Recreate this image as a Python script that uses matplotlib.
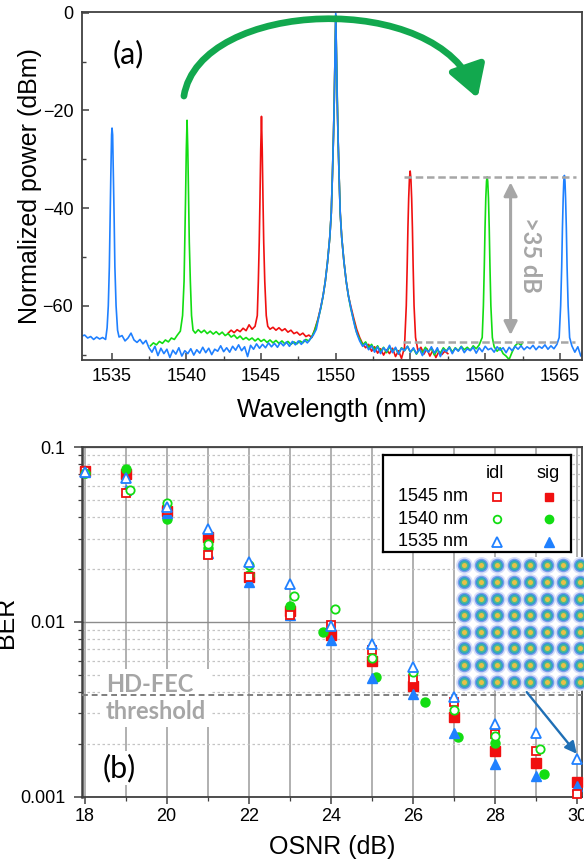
"""Four-wave-mixing spectra (a) and BER vs OSNR (b)"""

import matplotlib
matplotlib.use("Agg")
import matplotlib.pyplot as plt
from matplotlib.patches import FancyArrowPatch, Rectangle
from matplotlib.path import Path
from matplotlib.ticker import MultipleLocator, LogLocator, NullFormatter, FuncFormatter

plt.rcParams["font.family"] = ["Liberation Sans", "DejaVu Sans"]

# ---------------- (a) optical spectra, (wavelength nm, power dBm) ----------------
spec_blue = [
    (1533.0, -66.2), (1533.2, -66.0), (1533.4, -66.6), (1533.6, -66.3), (1533.8, -66.9),
    (1534.0, -66.4), (1534.2, -66.8), (1534.4, -66.5), (1534.6, -66.9),
    (1534.7, -64.5), (1534.78, -60), (1534.85, -52), (1534.9, -42), (1534.95, -33),
    (1535.0, -25), (1535.03, -23.6), (1535.07, -25), (1535.12, -33), (1535.17, -42),
    (1535.22, -52), (1535.3, -60), (1535.4, -65), (1535.5, -66.4),
    (1535.7, -66.1), (1535.9, -67.2), (1536.1, -66.6), (1536.3, -65.6), (1536.5, -67.0),
    (1536.7, -67.5), (1536.9, -66.9), (1537.1, -67.8), (1537.3, -67.1), (1537.5, -68.6),
    (1537.7, -69.5), (1537.9, -68.3), (1538.1, -70.2), (1538.3, -68.7), (1538.5, -69.8),
    (1538.7, -68.9), (1538.9, -70.6), (1539.1, -69.1), (1539.3, -69.9), (1539.5, -68.6),
    (1539.7, -70.3), (1539.9, -69.2), (1540.1, -69.8), (1540.3, -68.8), (1540.5, -70.1),
    (1540.7, -69.0), (1540.9, -69.7), (1541.1, -68.5), (1541.3, -69.6), (1541.5, -68.7),
    (1541.7, -70.0), (1541.9, -68.9), (1542.1, -69.3), (1542.3, -68.2), (1542.5, -69.4),
    (1542.7, -68.6), (1542.9, -69.5), (1543.1, -68.3), (1543.3, -69.1), (1543.5, -68.0),
    (1543.7, -69.2), (1543.9, -68.4), (1544.1, -70.4), (1544.3, -68.1), (1544.5, -68.9),
    (1544.7, -67.8), (1544.9, -68.7), (1545.1, -67.9), (1545.3, -68.6), (1545.5, -67.6),
    (1545.7, -68.4), (1545.9, -67.7), (1546.1, -68.5), (1546.3, -67.5), (1546.5, -68.2),
    (1546.7, -67.4), (1546.9, -68.3), (1547.1, -67.3), (1547.3, -68.0), (1547.5, -67.2),
    (1547.7, -67.9), (1547.9, -67.0), (1548.1, -67.6), (1548.3, -66.8),
    (1548.5, -66.0), (1548.7, -64.8), (1548.85, -62.5), (1549.0, -60.3), (1549.15, -58),
    (1549.3, -55), (1549.45, -51), (1549.6, -46), (1549.7, -41), (1549.78, -33),
    (1549.85, -25), (1549.9, -18), (1549.95, -9), (1550.0, 0), (1550.05, -9),
    (1550.1, -18), (1550.15, -25), (1550.22, -33), (1550.3, -41), (1550.4, -46),
    (1550.55, -51), (1550.7, -55), (1550.85, -58), (1551.0, -60.3), (1551.15, -62.5),
    (1551.3, -64.5), (1551.45, -66), (1551.6, -67.2),
    (1551.8, -68.3), (1552.0, -67.7), (1552.2, -69.0), (1552.4, -68.2), (1552.6, -69.5),
    (1552.8, -68.4), (1553.0, -69.8), (1553.2, -68.6), (1553.4, -69.3), (1553.6, -68.1),
    (1553.8, -69.6), (1554.0, -68.5), (1554.2, -69.9), (1554.4, -68.7), (1554.6, -69.2),
    (1554.8, -68.3), (1555.0, -69.5), (1555.2, -68.6), (1555.4, -69.8), (1555.6, -68.8),
    (1555.8, -70.2), (1556.0, -68.9), (1556.2, -69.5), (1556.4, -68.4), (1556.6, -69.7),
    (1556.8, -68.6), (1557.0, -70.4), (1557.2, -68.9), (1557.4, -69.4), (1557.6, -68.5),
    (1557.8, -69.8), (1558.0, -68.7), (1558.2, -69.3), (1558.4, -68.4), (1558.6, -69.6),
    (1558.8, -68.8), (1559.0, -69.2), (1559.2, -68.5), (1559.4, -69.7), (1559.6, -68.6),
    (1559.8, -69.4), (1560.0, -68.3), (1560.2, -69.0), (1560.4, -68.7), (1560.6, -69.5),
    (1560.8, -68.4), (1561.0, -69.1), (1561.2, -68.6), (1561.4, -69.6), (1561.6, -68.5),
    (1561.8, -69.2), (1562.0, -68.3), (1562.2, -68.9), (1562.4, -68.2), (1562.6, -69.0),
    (1562.8, -68.4), (1563.0, -68.8), (1563.2, -68.1), (1563.4, -69.0), (1563.6, -68.3),
    (1563.8, -68.7), (1564.0, -68.0), (1564.2, -68.9), (1564.4, -68.2), (1564.6, -68.8),
    (1564.8, -67.9), (1564.95, -66.5),
    (1565.05, -60), (1565.12, -52), (1565.17, -44), (1565.22, -38), (1565.26, -34.5),
    (1565.3, -33.3), (1565.34, -34.5), (1565.38, -38), (1565.43, -44), (1565.48, -52),
    (1565.55, -60), (1565.65, -66.5),
    (1565.8, -68.2), (1566.0, -69.5), (1566.2, -68.4), (1566.4, -70.3), (1566.6, -68.8),
    (1566.8, -70.6), (1567.0, -69.2),
]

spec_green = [
    (1537.6, -68.2), (1537.8, -67.6), (1538.0, -68.0), (1538.2, -67.3), (1538.4, -67.7),
    (1538.6, -67.0), (1538.8, -67.4), (1539.0, -66.6), (1539.2, -66.9), (1539.4, -66.0),
    (1539.6, -65.2), (1539.75, -62),
    (1539.85, -55), (1539.9, -47), (1539.95, -38), (1540.0, -28), (1540.05, -22),
    (1540.1, -28), (1540.15, -38), (1540.2, -47), (1540.27, -55), (1540.35, -62),
    (1540.45, -65.0),
    (1540.6, -65.6), (1540.8, -64.9), (1541.0, -65.5), (1541.2, -65.0), (1541.4, -65.7),
    (1541.6, -65.2), (1541.8, -65.8), (1542.0, -65.3), (1542.2, -65.9), (1542.4, -65.4),
    (1542.6, -66.1), (1542.8, -65.7), (1543.0, -66.4), (1543.2, -66.0), (1543.4, -66.7),
    (1543.6, -66.2), (1543.8, -66.9), (1544.0, -66.5), (1544.2, -67.0), (1544.4, -66.6),
    (1544.6, -67.2), (1544.8, -66.7), (1545.0, -67.3), (1545.2, -66.9), (1545.4, -67.5),
    (1545.6, -67.0), (1545.8, -67.6), (1546.0, -67.1), (1546.2, -67.7), (1546.4, -67.2),
    (1546.6, -67.8), (1546.8, -67.3), (1547.0, -67.9), (1547.2, -67.4), (1547.4, -67.8),
    (1547.6, -67.2), (1547.8, -67.6), (1548.0, -66.9), (1548.2, -67.2), (1548.4, -66.3),
    (1548.6, -65.0), (1548.8, -63.0), (1549.0, -60.5), (1549.15, -58), (1549.3, -55),
    (1549.45, -51), (1549.6, -46), (1549.7, -41), (1549.78, -33), (1549.85, -25),
    (1549.9, -18), (1549.95, -9), (1550.0, -0.5), (1550.05, -9), (1550.1, -18),
    (1550.15, -25), (1550.22, -33), (1550.3, -41), (1550.4, -46), (1550.55, -51),
    (1550.7, -55), (1550.85, -58), (1551.0, -60.5), (1551.2, -63), (1551.4, -65.5),
    (1551.6, -66.8),
    (1551.8, -68.0), (1552.0, -67.4), (1552.2, -68.6), (1552.4, -67.9), (1552.6, -69.1),
    (1552.8, -68.2), (1553.0, -69.4), (1553.2, -68.5), (1553.4, -69.6), (1553.6, -68.4),
    (1553.8, -69.3), (1554.0, -68.7), (1554.2, -69.8), (1554.4, -68.6), (1554.6, -69.2),
    (1554.8, -68.3), (1555.0, -69.5), (1555.2, -68.8), (1555.4, -69.9), (1555.6, -68.9),
    (1555.8, -69.6), (1556.0, -68.5), (1556.2, -69.4), (1556.4, -68.7), (1556.6, -70.1),
    (1556.8, -69.0), (1557.0, -69.7), (1557.2, -68.6), (1557.4, -69.3), (1557.6, -68.4),
    (1557.8, -69.5), (1558.0, -68.6), (1558.2, -69.2), (1558.4, -68.3), (1558.6, -69.0),
    (1558.8, -68.5), (1559.0, -69.1), (1559.2, -68.2), (1559.4, -68.8), (1559.6, -68.0),
    (1559.8, -66.5),
    (1559.88, -60), (1559.94, -52), (1559.99, -44), (1560.04, -38), (1560.09, -34.5),
    (1560.13, -33.6), (1560.17, -34.5), (1560.22, -38), (1560.27, -44), (1560.32, -52),
    (1560.38, -60), (1560.48, -66.5),
    (1560.6, -68.4), (1560.8, -69.3), (1561.0, -68.6), (1561.2, -69.8), (1561.4, -70.3),
    (1561.6, -71.0), (1561.8, -69.5), (1562.0, -68.2), (1562.2, -67.6), (1562.4, -68.1),
    (1562.5, -67.5),
]

spec_red = [
    (1542.8, -65.6), (1543.0, -65.0), (1543.2, -65.5), (1543.4, -64.9), (1543.6, -65.3),
    (1543.8, -64.6), (1544.0, -65.1), (1544.2, -63.9), (1544.4, -64.8), (1544.6, -64.2),
    (1544.75, -62),
    (1544.82, -55), (1544.88, -47), (1544.93, -38), (1544.98, -28), (1545.03, -21.2),
    (1545.08, -28), (1545.13, -38), (1545.18, -47), (1545.25, -55), (1545.35, -62),
    (1545.45, -64.2),
    (1545.6, -64.8), (1545.8, -64.4), (1546.0, -65.0), (1546.2, -64.5), (1546.4, -65.1),
    (1546.6, -64.7), (1546.8, -65.4), (1547.0, -65.0), (1547.2, -65.7), (1547.4, -65.4),
    (1547.6, -66.0), (1547.8, -65.6), (1548.0, -66.3), (1548.2, -66.0), (1548.4, -66.5),
    (1548.6, -64.8), (1548.8, -62.8), (1549.0, -60.3), (1549.15, -58), (1549.3, -55),
    (1549.45, -51), (1549.6, -46), (1549.7, -41), (1549.78, -33), (1549.85, -25),
    (1549.9, -18), (1549.95, -9), (1550.0, -0.5), (1550.05, -9), (1550.1, -18),
    (1550.15, -25), (1550.22, -33), (1550.3, -41), (1550.4, -46), (1550.55, -51),
    (1550.7, -55), (1550.85, -58), (1551.0, -60.0), (1551.2, -62.5), (1551.4, -64.8),
    (1551.6, -66.5),
    (1551.8, -67.8), (1552.0, -68.6), (1552.2, -67.9), (1552.4, -69.3), (1552.6, -68.4),
    (1552.8, -69.7), (1553.0, -68.8), (1553.2, -70.1), (1553.4, -69.0), (1553.6, -69.8),
    (1553.8, -68.7), (1554.0, -70.4), (1554.2, -69.2), (1554.4, -70.8), (1554.6, -68.5),
    (1554.72, -60), (1554.78, -52), (1554.83, -44), (1554.88, -38), (1554.93, -34),
    (1554.98, -32.4), (1555.03, -34), (1555.08, -38), (1555.13, -44), (1555.18, -52),
    (1555.24, -60), (1555.34, -66.5),
    (1555.5, -69.2), (1555.7, -68.5), (1555.9, -69.9), (1556.1, -68.8), (1556.3, -70.3),
    (1556.5, -69.1), (1556.7, -70.6), (1556.9, -69.4), (1557.1, -70.0), (1557.3, -69.3),
    (1557.5, -69.8),
]

wl_ticks = [1535, 1540, 1545, 1550, 1555, 1560, 1565]
level_hi = -33.7      # top of the idler peaks
level_lo = -67.5      # noise floor

# ---------------- (b) BER vs OSNR ----------------
osnr = [18, 19, 20, 21, 22, 23, 24, 25, 26, 27, 28, 29, 30]
ber_1545_idl = [0.0735, 0.055, 0.0437, 0.0241, 0.0182, 0.0109, 0.0096, 0.0069, 0.0047,
                0.0035, 0.00228, 0.00182, 0.00104]
ber_1545_sig = [0.0735, 0.070, 0.043, 0.0308, 0.0182, 0.0115, 0.0084, 0.00598, 0.0043,
                0.00284, 0.00183, 0.00155, 0.00121]
osnr_1540_idl = [18, 19.1, 20, 21, 22, 23.1, 24.1, 25, 26, 27, 28, 29.1]
ber_1540_idl = [0.071, 0.057, 0.0482, 0.0279, 0.0212, 0.0141, 0.0119, 0.00625, 0.0052,
                0.00313, 0.00222, 0.00187]
osnr_1540_sig = [18, 19, 20, 21, 22, 23, 23.8, 25.1, 26.3, 27.1, 28, 29.2]
ber_1540_sig = [0.071, 0.0755, 0.0389, 0.0264, 0.0185, 0.0123, 0.0088, 0.00487, 0.00347,
                0.00219, 0.00202, 0.00134]
ber_1535_idl = [0.072, 0.0665, 0.0457, 0.034, 0.0221, 0.0165, 0.0095, 0.00748, 0.00555,
                0.00374, 0.0026, 0.00233, 0.00164]
ber_1535_sig = [0.072, 0.057, 0.042, 0.0249, 0.0169, 0.011, 0.0079, 0.00478, 0.00388,
                0.00231, 0.00153, 0.00132, 0.00115]
hd_fec = 3.8e-3
qam_levels = [-7, -5, -3, -1, 1, 3, 5, 7]

RED, GREEN, BLUE = "#f01010", "#12dd12", "#1f80ff"
GRAY = "#a6a6a6"

fig = plt.figure(figsize=(5.84, 8.67), dpi=100)

# ======== top panel ========
ax1 = fig.add_axes([0.1399, 0.5848, 0.8562, 0.4018])
for spec, col in ((spec_red, RED), (spec_green, GREEN), (spec_blue, BLUE)):
    wl, pw = zip(*spec)
    ax1.plot(wl, pw, color=col, lw=1.2)
ax1.set_xlim(1533.0, 1566.46)
ax1.set_ylim(-71.1, 0.25)
ax1.set_xticks(wl_ticks)
ax1.xaxis.set_minor_locator(MultipleLocator(2.5))
ax1.set_yticks([0, -20, -40, -60])
ax1.yaxis.set_minor_locator(MultipleLocator(10))
ax1.tick_params(which="both", direction="in", labelsize=13, pad=6, color="#404040")
ax1.tick_params(which="major", length=5, width=1.1)
ax1.tick_params(which="minor", length=3, width=1.0)
for s in ax1.spines.values():
    s.set_color("#404040")
    s.set_linewidth(1.3)
ax1.set_xlabel("Wavelength (nm)", fontsize=18)
ax1.set_ylabel("Normalized power (dBm)", fontsize=18)
ax1.xaxis.set_label_coords(0.5, -0.108)
ax1.yaxis.set_label_coords(-0.079, 0.5)

ax1.text(1536.09, -8.4, "(a)", fontsize=22, family="Lato", ha="center", va="center")

# dynamic range marks
ax1.plot([1554.6, 1566.1], [level_hi, level_hi], color=GRAY, lw=1.8, ls=(0, (3, 1.5)))
ax1.plot([1554.5, 1566.0], [level_lo, level_lo], color=GRAY, lw=1.8, ls=(0, (3, 1.5)))
ax1.annotate("", xy=(1561.7, level_hi - 1.0), xytext=(1561.7, level_lo + 1.5),
             arrowprops=dict(arrowstyle="<|-|>,head_length=0.8,head_width=0.4",
                             color=GRAY, lw=2.2, shrinkA=0, shrinkB=0))
ax1.text(1563.0, -49.5, ">35 dB", rotation=-90, fontsize=17, family="Lato",
         fontweight="bold", color=GRAY, ha="center", va="center")

# curved green arrow
arc = Path([(1539.84, -17.05), (1540.91, 2.88), (1556.97, 4.93), (1559.49, -17.47)],
           [Path.MOVETO, Path.CURVE4, Path.CURVE4, Path.CURVE4])
ax1.add_patch(FancyArrowPatch(path=arc, arrowstyle="-|>,head_length=1.35,head_width=0.8",
                              mutation_scale=14, lw=4.8, color="#12a84e",
                              clip_on=False, zorder=5))

# ======== bottom panel ========
ax2 = fig.add_axes([0.1399, 0.0811, 0.8562, 0.4030])
ax2.set_yscale("log")
ax2.set_xlim(17.93, 30.11)
ax2.set_ylim(0.001, 0.1)
ax2.set_axisbelow(True)
ax2.xaxis.set_major_locator(MultipleLocator(2))
ax2.xaxis.set_minor_locator(MultipleLocator(1))
ax2.yaxis.set_major_locator(LogLocator(base=10))
ax2.yaxis.set_minor_locator(LogLocator(base=10, subs=range(2, 10)))
ax2.yaxis.set_major_formatter(FuncFormatter(lambda v, p: "%g" % v))
ax2.yaxis.set_minor_formatter(NullFormatter())
ax2.grid(which="major", axis="x", color="#aaaaaa", lw=1.3)
ax2.grid(which="minor", axis="x", color="#aaaaaa", lw=1.3)
ax2.grid(which="major", axis="y", color="#8c8c8c", lw=1.0)
ax2.grid(which="minor", axis="y", color="#c4c4c4", lw=0.9, ls=(0, (2, 2)))
ax2.tick_params(which="both", direction="out", labelsize=13, color="#404040")
ax2.tick_params(axis="x", which="major", length=5, width=1.1, pad=3)
ax2.tick_params(axis="y", which="major", length=6, width=1.1, pad=6)
ax2.tick_params(which="minor", length=3, width=0.9)
for s in ax2.spines.values():
    s.set_color("#404040")
    s.set_linewidth(1.3)
ax2.spines["left"].set_linewidth(1.8)
ax2.set_xlabel("OSNR (dB)", fontsize=18)
ax2.set_ylabel("BER", fontsize=18)
ax2.xaxis.set_label_coords(0.5, -0.111)
ax2.yaxis.set_label_coords(-0.127, 0.5)

ms = 6.5
mk = dict(ls="none", zorder=4, clip_on=False)
ax2.plot(osnr, ber_1545_sig, "s", color=RED, ms=ms, **mk)
ax2.plot(osnr_1540_sig, ber_1540_sig, "o", color=GREEN, ms=ms, **mk)
ax2.plot(osnr, ber_1535_sig, "^", color=BLUE, ms=ms + 1, **mk)
ax2.plot(osnr, ber_1545_idl, "s", mec=RED, mfc="white", mew=1.3, ms=ms - 0.5, **mk)
ax2.plot(osnr_1540_idl, ber_1540_idl, "o", mec=GREEN, mfc="white", mew=1.3, ms=ms - 0.5, **mk)
ax2.plot(osnr, ber_1535_idl, "^", mec=BLUE, mfc="white", mew=1.3, ms=ms + 1, **mk)

ax2.axhline(hd_fec, color="#7f7f7f", lw=1.4, ls=(0, (3, 2)), zorder=3)
ax2.text(18.52, 0.00367, "HD-FEC\nthreshold", fontsize=17, family="Lato", fontweight="bold",
         color=GRAY, ha="left", va="center", linespacing=1.25, zorder=2.5,
         bbox=dict(boxstyle="square,pad=0.15", fc="white", ec="none"))
ax2.text(18.84, 0.00146, "(b)", fontsize=22, family="Lato", ha="center", va="center",
         zorder=2.5, bbox=dict(boxstyle="square,pad=0.1", fc="white", ec="none"))
ax2.annotate("", xy=(29.99, 0.00176), xytext=(28.77, 0.00397),
             arrowprops=dict(arrowstyle="-|>,head_length=0.7,head_width=0.35",
                             color="#1f6fb5", lw=1.7, shrinkA=0, shrinkB=0), zorder=5)

# constellation inset
axi = fig.add_axes([0.7808, 0.2042, 0.226, 0.1534])
axi.set_xlim(-8, 8)
axi.set_ylim(-8, 8)
axi.axis("off")
axi.add_patch(Rectangle((-8, -8), 16, 16, fc="white", ec="none", zorder=0))
gx = [x for x in qam_levels for _ in qam_levels]
gy = [y for _ in qam_levels for y in qam_levels]
axi.scatter(gx, gy, s=150, color="#d6def8", alpha=0.9, lw=0, zorder=1)
axi.scatter(gx, gy, s=95, color="#6a8fea", alpha=0.85, lw=0, zorder=2)
axi.scatter(gx, gy, s=62, color="#2f9fcc", lw=0, zorder=3)
axi.scatter(gx, gy, s=34, color="#4dbb8a", lw=0, zorder=4)
axi.scatter(gx, gy, s=13, color="#e8c046", lw=0, zorder=5)

# legend box
axl = fig.add_axes([0.6553, 0.3630, 0.3219, 0.1122])
axl.set_xlim(0, 188)
axl.set_ylim(97.3, 0)
axl.set_xticks([])
axl.set_yticks([])
for s in axl.spines.values():
    s.set_color("black")
    s.set_linewidth(1.6)
axl.text(112.3, 18.5, "idl", fontsize=13, ha="center", va="center")
axl.text(165.6, 18.5, "sig", fontsize=13, ha="center", va="center")
rows = [("1545 nm", "s", RED, 41.7), ("1540 nm", "o", GREEN, 64.3), ("1535 nm", "^", BLUE, 86.7)]
for lab, m, c, yy in rows:
    axl.text(15.6, yy, lab, fontsize=13, ha="left", va="center")
    axl.plot([114], [yy], m, mec=c, mfc="white", mew=1.3, ms=5.5 if m != "^" else 7)
    axl.plot([166.6], [yy], m, color=c, ms=6 if m != "^" else 7.5)

fig.savefig("out.png", dpi=100)
